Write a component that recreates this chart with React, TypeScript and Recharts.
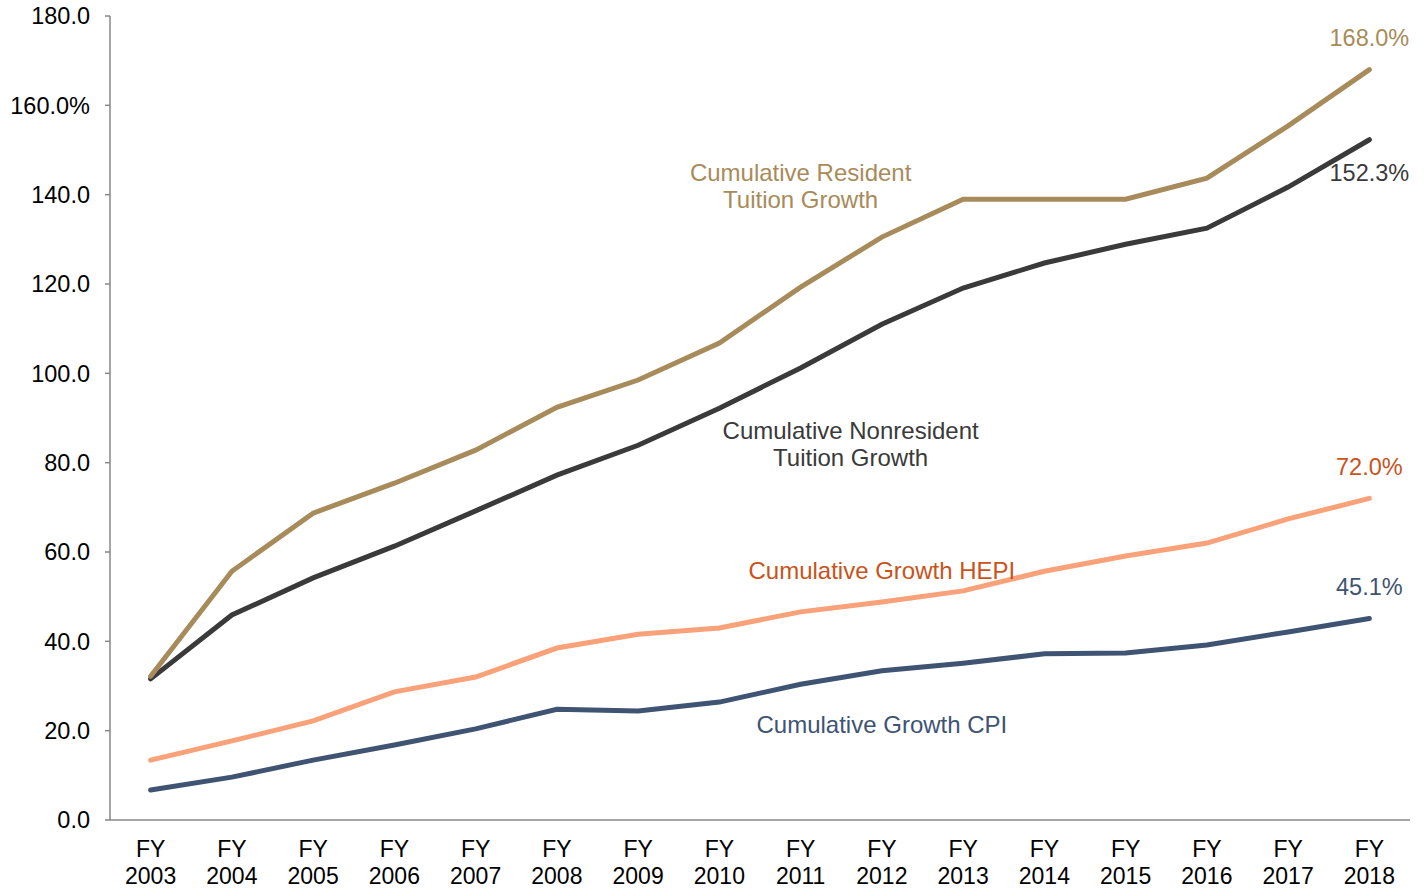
import { LineChart, Line, XAxis, YAxis, ReferenceDot, LabelList } from 'recharts'

const years = ['2003', '2004', '2005', '2006', '2007', '2008', '2009', '2010', '2011', '2012', '2013', '2014', '2015', '2016', '2017', '2018']
const resident = [32.2, 55.7, 68.7, 75.4, 82.8, 92.4, 98.5, 106.8, 119.3, 130.5, 139.0, 139.0, 139.0, 143.7, 155.4, 168.0]
const nonresident = [31.6, 45.9, 54.2, 61.3, 69.2, 77.2, 83.9, 92.2, 101.2, 111.0, 119.1, 124.7, 128.9, 132.5, 141.7, 152.3]
const hepi = [13.4, 17.7, 22.2, 28.7, 32.0, 38.5, 41.6, 43.0, 46.6, 48.8, 51.3, 55.7, 59.1, 62.0, 67.4, 72.0]
const cpi = [6.7, 9.6, 13.4, 16.8, 20.4, 24.8, 24.4, 26.4, 30.4, 33.4, 35.1, 37.2, 37.4, 39.2, 42.1, 45.1]
const yTicks = [0, 20, 40, 60, 80, 100, 120, 140, 160, 180]

const data = years.map((y, i) => ({
  name: `FY ${y}`,
  resident: resident[i],
  nonresident: nonresident[i],
  hepi: hepi[i],
  cpi: cpi[i],
}))

const FONT = '"Liberation Sans", Arial, sans-serif'
const AXIS = '#878787'

const XTick = ({ x, y, payload }: any) => {
  const [a, b] = String(payload.value).split(' ')
  return (
    <text x={x} y={y} textAnchor="middle" fill="#000" fontSize={23} fontFamily={FONT}>
      <tspan x={x} dy={37}>{a}</tspan>
      <tspan x={x} dy={27}>{b}</tspan>
    </text>
  )
}

// label for the last point only
const endLabel = (color: string, dy: number) => (props: any) => {
  const { x, y, value, index } = props
  if (index !== years.length - 1) return null
  return (
    <text x={x} y={y + dy} textAnchor="middle" dominantBaseline="central" fill={color} fontSize={23.5} fontFamily={FONT}>
      {`${Number(value).toFixed(1)}%`}
    </text>
  )
}

const note = (lines: string[], color: string, dx = 0) => (props: any) => {
  const vb = props.viewBox
  const cx = vb.x + vb.width / 2 + dx
  const cy = vb.y + vb.height / 2
  const start = cy - ((lines.length - 1) * 27) / 2
  return (
    <text textAnchor="middle" dominantBaseline="central" fill={color} fontSize={24} fontFamily={FONT}>
      {lines.map((l, i) => (
        <tspan key={i} x={cx} y={start + i * 27}>{l}</tspan>
      ))}
    </text>
  )
}

export default function App() {
  return (
    <div style={{ position: 'absolute', top: 0, left: 0 }}>
      <LineChart width={1427} height={890} data={data} margin={{ top: 16, right: 17, bottom: 0, left: 0 }} style={{ fontFamily: FONT }}>
        <XAxis
          dataKey="name"
          scale="band"
          height={70}
          tick={<XTick />}
          tickLine={false}
          tickSize={0}
          tickMargin={0}
          interval={0}
          axisLine={{ stroke: AXIS, strokeWidth: 1.5 }}
        />
        <YAxis
          width={110}
          domain={[0, 180]}
          ticks={yTicks}
          interval={0}
          tickFormatter={(v: number) => (v === 160 ? '160.0%' : v.toFixed(1))}
          tick={{ fill: '#000', fontSize: 23.5, fontFamily: FONT }}
          tickSize={5}
          tickMargin={15}
          tickLine={{ stroke: AXIS, strokeWidth: 1.5 }}
          axisLine={{ stroke: AXIS, strokeWidth: 1.5 }}
        />
        <Line dataKey="cpi" stroke="#3E5472" strokeWidth={5} strokeLinecap="round" dot={false} isAnimationActive={false}>
          <LabelList dataKey="cpi" content={endLabel('#3E5472', -32)} />
        </Line>
        <Line dataKey="hepi" stroke="#F9A27A" strokeWidth={5} strokeLinecap="round" dot={false} isAnimationActive={false}>
          <LabelList dataKey="hepi" content={endLabel('#C9531A', -31)} />
        </Line>
        <Line dataKey="nonresident" stroke="#3A3A3A" strokeWidth={5} strokeLinecap="round" dot={false} isAnimationActive={false}>
          <LabelList dataKey="nonresident" content={endLabel('#3A3A3A', 33)} />
        </Line>
        <Line dataKey="resident" stroke="#A88B5A" strokeWidth={5} strokeLinecap="round" dot={false} isAnimationActive={false}>
          <LabelList dataKey="resident" content={endLabel('#A88B5A', -32)} />
        </Line>
        <ReferenceDot x="FY 2011" y={142} r={1} fill="none" stroke="none" label={note(['Cumulative Resident', 'Tuition Growth'], '#A88B5A')} />
        <ReferenceDot x="FY 2011" y={84.2} r={1} fill="none" stroke="none" label={note(['Cumulative Nonresident', 'Tuition Growth'], '#3A3A3A', 50)} />
        <ReferenceDot x="FY 2012" y={56} r={1} fill="none" stroke="none" label={note(['Cumulative Growth HEPI'], '#C9531A')} />
        <ReferenceDot x="FY 2012" y={21.5} r={1} fill="none" stroke="none" label={note(['Cumulative Growth CPI'], '#3E5472')} />
      </LineChart>
    </div>
  )
}
